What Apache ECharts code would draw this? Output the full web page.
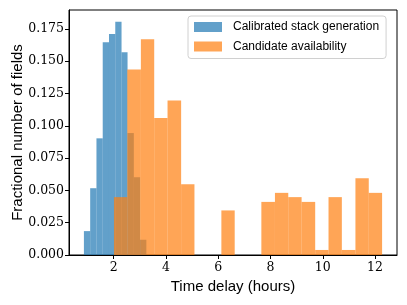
<!DOCTYPE html>
<html>
<head>
<meta charset="utf-8">
<script src="https://cdn.jsdelivr.net/npm/echarts@6/dist/echarts.min.js"></script>
<style>html,body{margin:0;padding:0;background:#fff;}#c{width:407px;height:305px;}</style>
</head>
<body>
<div id="c"></div>
<script>
// Bin edges (hours) and fractional heights
const blueEdges = [0.86, 1.10, 1.34, 1.58, 1.82, 2.06, 2.30, 2.53, 2.77, 3.01, 3.25];
const blueValues = [0.0185, 0.0517, 0.0903, 0.1646, 0.1710, 0.1806, 0.1570, 0.0944, 0.0602, 0.0118];
const orangeEdges = [2.01, 2.52, 3.04, 3.55, 4.06, 4.58, 5.09, 5.60, 6.12, 6.63, 7.14, 7.65, 8.17, 8.68, 9.19, 9.71, 10.22, 10.73, 11.25, 11.76, 12.27];
const orangeValues = [0.0448, 0.1435, 0.1670, 0.1060, 0.1196, 0.0548, 0, 0, 0.0345, 0, 0, 0.0411, 0.0481, 0.0448, 0.0411, 0.0039, 0.0448, 0.0039, 0.0594, 0.0481];
const xTicks = [2, 4, 6, 8, 10, 12];
const yTicks = [0, 0.025, 0.05, 0.075, 0.1, 0.125, 0.15, 0.175];
const seriesNames = ['Calibrated stack generation', 'Candidate availability'];
const xTitle = 'Time delay (hours)';
const yTitle = 'Fractional number of fields';

function toBins(edges, vals) {
  return vals.map((v, i) => [edges[i], edges[i + 1], v]);
}
function makeRender(color) {
  return function (params, api) {
    const x0 = api.value(0), x1 = api.value(1), h = api.value(2);
    const p0 = api.coord([x0, h]);
    const p1 = api.coord([x1, 0]);
    return {
      type: 'rect',
      shape: { x: p0[0], y: p0[1], width: p1[0] - p0[0], height: p1[1] - p0[1] },
      style: { fill: color, opacity: 0.7 }
    };
  };
}

const allEdges = blueEdges.concat(orangeEdges);
const dmin = Math.min(...allEdges), dmax = Math.max(...allEdges);
const pad = (dmax - dmin) * 0.05;
const ymax = Math.max(...blueValues, ...orangeValues) * 1.05;

const tickFont = { fontFamily: 'DejaVu Serif', fontSize: 12.5, color: '#000' };
const chart = echarts.init(document.getElementById('c'), null, { renderer: 'canvas' });
chart.setOption({
  animation: false,
  backgroundColor: '#fff',
  grid: { left: 69, right: 10, top: 10, bottom: 50, show: true, borderColor: '#000', borderWidth: 1, backgroundColor: 'transparent', containLabel: false, outerBoundsMode: 'none' },
  xAxis: {
    type: 'value', min: dmin - pad, max: dmax + pad,
    name: xTitle, nameLocation: 'middle', nameGap: 24, nameMoveOverlap: false,
    nameTextStyle: { fontFamily: 'Liberation Sans', fontSize: 15, color: '#000' },
    axisLine: { show: true, lineStyle: { color: '#000', width: 1 } },
    axisTick: { show: true, length: 4, lineStyle: { color: '#000' }, customValues: xTicks },
    axisLabel: Object.assign({ margin: 6, customValues: xTicks, formatter: v => String(v) }, tickFont),
    splitLine: { show: false }
  },
  yAxis: {
    type: 'value', min: 0, max: ymax,
    name: yTitle, nameLocation: 'middle', nameGap: 44, nameRotate: 90, nameMoveOverlap: false,
    nameTextStyle: { fontFamily: 'Liberation Sans', fontSize: 15, color: '#000' },
    axisLine: { show: true, lineStyle: { color: '#000', width: 1 } },
    axisTick: { show: true, length: 4, lineStyle: { color: '#000' }, customValues: yTicks },
    axisLabel: Object.assign({ margin: 5, customValues: yTicks, formatter: v => v.toFixed(3) }, tickFont),
    splitLine: { show: false }
  },
  legend: {
    left: 188, top: 16, orient: 'vertical',
    padding: [4, 7, 5, 6], itemGap: 5.5,
    itemWidth: 28, itemHeight: 10,
    backgroundColor: 'rgba(255,255,255,0.8)', borderColor: '#d0d0d0', borderWidth: 1, borderRadius: 3,
    textStyle: { fontFamily: 'Liberation Sans', fontSize: 12, color: '#000', lineHeight: 14, padding: [0, 0, 0, 6] },
    data: [
      { name: seriesNames[0], icon: 'rect', itemStyle: { color: '#1f77b4', opacity: 0.7 } },
      { name: seriesNames[1], icon: 'rect', itemStyle: { color: '#ff7f0e', opacity: 0.7 } }
    ]
  },
  series: [
    { type: 'custom', name: seriesNames[0], renderItem: makeRender('#1f77b4'), encode: { x: [0, 1], y: 2 },
      itemStyle: { color: '#1f77b4' }, data: toBins(blueEdges, blueValues), z: 2 },
    { type: 'custom', name: seriesNames[1], renderItem: makeRender('#ff7f0e'), encode: { x: [0, 1], y: 2 },
      itemStyle: { color: '#ff7f0e' }, data: toBins(orangeEdges, orangeValues), z: 3 }
  ]
});
</script>
</body>
</html>
